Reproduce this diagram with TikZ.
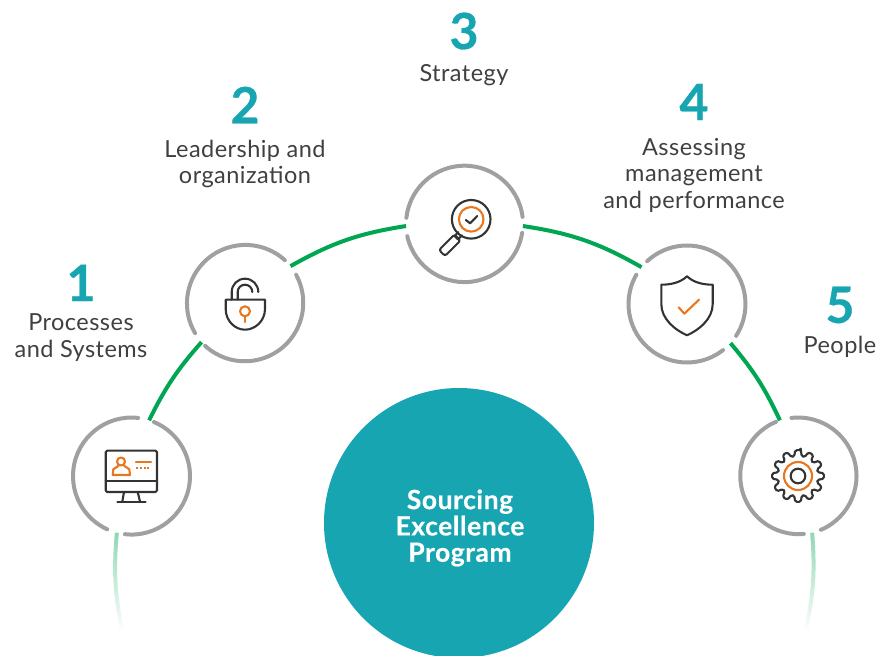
\documentclass[tikz,border=0pt]{standalone}
\usepackage{fontspec}
\setmainfont{Lato}
\newfontfamily\labfont[LetterSpace=2]{Lato}
\newfontfamily\numfont[FakeBold=0.6]{Lato}
\newfontfamily\hubfont[LetterSpace=2,FakeBold=0.3]{Lato Bold}
\usetikzlibrary{fadings}
\definecolor{ringgray}{HTML}{A0A0A0}
\definecolor{arcgreen}{HTML}{00A651}
\definecolor{hubteal}{HTML}{17A5B2}
\definecolor{iconorange}{HTML}{E8771F}
\definecolor{icondark}{HTML}{333333}
\definecolor{labeldark}{HTML}{404040}
\begin{document}
\begin{tikzpicture}[x=1pt,y=1pt,
stage/.style={circle,minimum size=117pt,inner sep=0pt,outer sep=0pt},
ring/.style={draw=ringgray,line width=4pt,line cap=round},
arcline/.style={draw=arcgreen,line width=4pt},
fadeline/.style={draw=arcgreen!45,line width=4pt,path fading=south},
num/.style={text=hubteal,font=\fontsize{50}{50}\numfont\bfseries,inner sep=0pt},
lab/.style={text=labeldark,font=\fontsize{23.5}{26.5}\labfont,align=center,inner sep=0pt},
dk/.style={draw=icondark,line width=2.1pt,line join=round,line cap=round},
og/.style={draw=iconorange,line width=2.1pt,line join=round,line cap=round},
]
\clip(0,0)rectangle(876,656);
%Hub
\node[circle,fill=hubteal,minimum size=270pt,inner sep=0pt](hub)at(459,133){};
\node[text=white,font=\fontsize{26.5}{26.3}\hubfont,align=center,inner sep=0pt](hubtext)at(460,128){Sourcing\\Excellence\\Program};
%Stages
\node[stage](crm)at(131,180){};
\node[stage](lock)at(245,353){};
\node[stage](lens)at(464.5,432){};
\node[stage](shield)at(687,352){};
\node[stage](gear)at(798,180){};
%Rings
\foreach \nd/\sa/\ea in {crm/-96.5/67.5,crm/83.5/245.5,lock/47.6/210.6,lock/227.3/388.6,lens/7.2/173.7,lens/192.4/350.9,shield/-33/133,shield/150/308,gear/-67/96.5,gear/112.8/275}
\draw[ring](\nd.\sa)arc[start angle=\sa,end angle=\ea,radius=58.5pt];
%Arcs
\draw[arcline](crm.72)to[bend left=7.6](lock.222);
\draw[arcline](lock.39)to[bend left=10.3](lens.182);
\draw[arcline](lens.-2)to[bend left=10.5](shield.141);
\draw[arcline](shield.-42)to[bend left=7.6](gear.108);
\coordinate(fadel)at(122,26);
\coordinate(fader)at(806,26);
\draw[fadeline](crm.256)to[bend right=8](fadel);
\draw[fadeline](gear.284)to[bend left=8](fader);
%Labels
\node[num](n1)at(81,373){1};
\node[lab](l1)at(81,318.5){Processes\\and Systems};
\node[num](n2)at(245,551){2};
\node[lab](l2)at(245,492){Leadership and\\organization};
\node[num](n3)at(464,625){3};
\node[lab](l3)at(464,581){Strategy};
\node[num](n4)at(694,554){4};
\node[lab](l4)at(694,481){Assessing\\management\\and performance};
\node[num](n5)at(840,351){5};
\node[lab](l5)at(840,309){People};
%Monitor
\begin{scope}[shift={(crm)}]
\draw[dk,rounded corners=1.5pt](-25.3,25.3)rectangle(26,-16);
\draw[dk](-25.3,-5)--(26,-5);
\draw[dk](-7,-16)--(-8.7,-25.5);
\draw[dk](6.7,-16)--(9,-25.5);
\draw[dk](-13.7,-25.7)--(14.7,-25.7);
\draw[og](-10,14.5)circle(4);
\draw[og](-12.3,10.3)--(-17.7,6.7)--(-18.3,1)--(-1,1)--(-1.7,6.7)--(-7,10.3);
\draw[og](5,13.7)--(20,13.7);
\draw[og,line cap=butt,dash pattern=on 2pt off 1.8pt](5,8)--(20,8);
\end{scope}
%Lock
\begin{scope}[shift={(lock)}]
\draw[dk](-19.3,3.3)--(20,3.3)--(20,-6) .. controls (20,-18) and (10,-26.7) .. (0,-26.7) .. controls (-10,-26.7) and (-19.3,-18) .. (-19.3,-6)--cycle;
\draw[dk](-13.3,3.3)--(-13.3,11)arc[start angle=180,end angle=0,radius=13.3];
\draw[dk](-7.3,3.3)--(-7.3,11)arc[start angle=180,end angle=0,radius=7.3];
\draw[og](0,-8.3)circle(5);
\draw[og](0,-13.3)--(0,-19);
\end{scope}
%Lens
\begin{scope}[shift={(lens)}]
\draw[dk](6.7,4.7)circle(19.3);
\draw[og](6.7,4.7)circle(12.3);
\draw[dk](1.3,4)--(5.7,0.7)--(12.7,8);
\draw[dk](-6,-8)--(-10,-12)--(-6.6,-15.4)--(-2.6,-11.4);
\draw[dk,rounded corners=2.5pt](-10,-10.5)--(-25.5,-26)--(-19.5,-32)--(-4,-16.5)--cycle;
\end{scope}
%Shield
\begin{scope}[shift={(shield)}]
\draw[dk](0,27.7) .. controls (-7,21) and (-17,19.3) .. (-25.7,19.3)--(-25.7,0) .. controls (-25.7,-15) and (-12,-26) .. (0,-31.3) .. controls (12,-26) and (25.7,-15) .. (25.7,0)--(25.7,19.3) .. controls (17,19.3) and (7,21) .. cycle;
\draw[og](-8.3,-3.3)--(-2.7,-9.7)--(12,4.3);
\end{scope}
%Gear
\begin{scope}[shift={(gear)}]
\draw[dk,rounded corners=1.5pt](84:26)\foreach \k in {0,...,11}{--(\k*30+96:26)--(\k*30+101:20)--(\k*30+109:20)--(\k*30+114:26)}--cycle;
\draw[og](0,0)circle(14);
\draw[dk](0,0)circle(7.3);
\end{scope}
\end{tikzpicture}
\end{document}
